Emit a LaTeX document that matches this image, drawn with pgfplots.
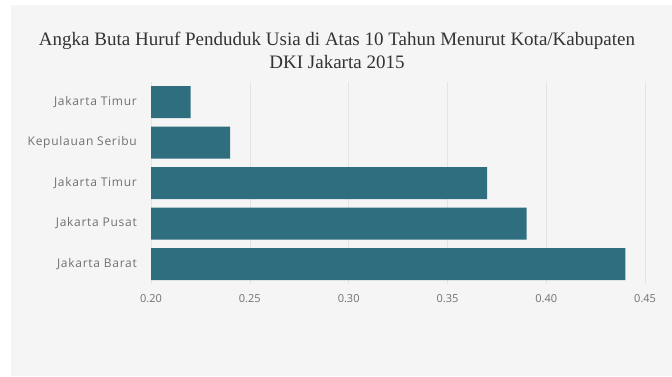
\documentclass[border=0pt]{standalone}
\usepackage{pgfplots}
\pgfplotsset{compat=1.18}
\usepackage{fontspec}
\setmainfont{Liberation Serif}
\newfontfamily\tickfont{Open Sans}
\newfontfamily\ytickfont[LetterSpace=6]{Open Sans}
\definecolor{bg}{HTML}{F5F5F5}
\definecolor{barc}{HTML}{2E6E7F}
\definecolor{gridc}{HTML}{E4E4E4}
\definecolor{tickc}{HTML}{707070}
\definecolor{titlec}{HTML}{333333}
\begin{document}
\begin{tikzpicture}[x=1pt,y=1pt]
\useasboundingbox (0,0) rectangle (672,376);
\fill[white] (0,0) rectangle (672,376);
\fill[bg] (11,0) rectangle (672,371);
\node[anchor=base, font=\fontsize{19}{23}\selectfont, text=titlec, inner sep=0pt] at (337,331)
  {Angka Buta Huruf Penduduk Usia di Atas 10 Tahun Menurut Kota/Kabupaten};
\node[anchor=base, font=\fontsize{19}{23}\selectfont, text=titlec, inner sep=0pt] at (337,308)
  {DKI Jakarta 2015};
\begin{axis}[
  at={(151pt,91.7pt)}, anchor=south west,
  width=504pt, height=202.5pt, scale only axis,
  xbar, bar shift=0pt, bar width=32pt,
  xmin=0.2, xmax=0.455,
  ymin=-0.5, ymax=4.5,
  ytick={0,1,2,3,4},
  yticklabels={Jakarta Barat,Jakarta Pusat,Jakarta Timur,Kepulauan Seribu,Jakarta Timur},
  xtick={0.2,0.25,0.3,0.35,0.4,0.45},
  xticklabels={0.20,0.25,0.30,0.35,0.40,0.45},
  axis line style={draw=none},
  major tick length=0pt,
  xmajorgrids, grid style={gridc, line width=0.6pt},
  axis background/.style={fill=bg},
  yticklabel style={font=\ytickfont\fontsize{12}{14}\selectfont, text=tickc, inner sep=0pt, xshift=-14pt},
  xticklabel style={font=\tickfont\fontsize{11}{13}\selectfont, text=tickc, inner sep=0pt, yshift=-10pt},
  clip=true,
]
\addplot[fill=barc, draw=none] coordinates {(0.44,0) (0.39,1) (0.37,2) (0.24,3) (0.22,4)};
\end{axis}
\end{tikzpicture}
\end{document}
